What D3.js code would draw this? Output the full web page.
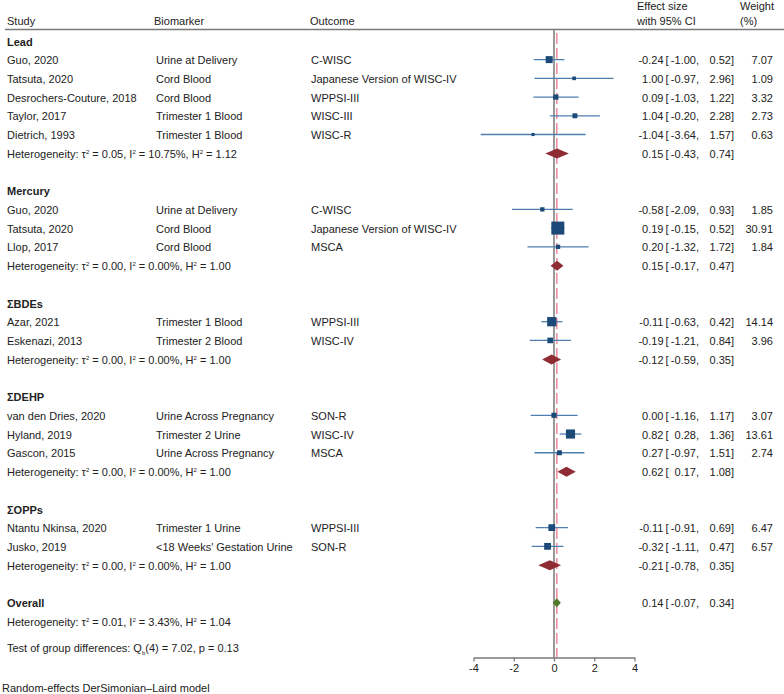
<!DOCTYPE html>
<html><head><meta charset="utf-8">
<script src="https://cdn.jsdelivr.net/npm/d3@7"></script>
<style>
body{margin:0;background:#fff;}
svg text{font-family:"Liberation Sans",Arial,Helvetica,sans-serif;font-size:11px;fill:#222;}
</style></head>
<body><svg id="c" width="784" height="694"></svg>
<script>
// ---- data ----
const groups = ["Lead","Mercury","ΣBDEs","ΣDEHP","ΣOPPs"];
const studyGroup = [0,0,0,0,0,1,1,1,2,2,3,3,3,4,4];
const studies = ["Guo, 2020","Tatsuta, 2020","Desrochers-Couture, 2018","Taylor, 2017","Dietrich, 1993",
  "Guo, 2020","Tatsuta, 2020","Llop, 2017",
  "Azar, 2021","Eskenazi, 2013",
  "van den Dries, 2020","Hyland, 2019","Gascon, 2015",
  "Ntantu Nkinsa, 2020","Jusko, 2019"];
const biomarkers = ["Urine at Delivery","Cord Blood","Cord Blood","Trimester 1 Blood","Trimester 1 Blood",
  "Urine at Delivery","Cord Blood","Cord Blood",
  "Trimester 1 Blood","Trimester 2 Blood",
  "Urine Across Pregnancy","Trimester 2 Urine","Urine Across Pregnancy",
  "Trimester 1 Urine","<18 Weeks' Gestation Urine"];
const outcomes = ["C-WISC","Japanese Version of WISC-IV","WPPSI-III","WISC-III","WISC-R",
  "C-WISC","Japanese Version of WISC-IV","MSCA",
  "WPPSI-III","WISC-IV",
  "SON-R","WISC-IV","MSCA",
  "WPPSI-III","SON-R"];
const effects = [-0.24,1.00,0.09,1.04,-1.04,-0.58,0.19,0.20,-0.11,-0.19,0.00,0.82,0.27,-0.11,-0.32];
const lowers  = [-1.00,-0.97,-1.03,-0.20,-3.64,-2.09,-0.15,-1.32,-0.63,-1.21,-1.16,0.28,-0.97,-0.91,-1.11];
const uppers  = [0.52,2.96,1.22,2.28,1.57,0.93,0.52,1.72,0.42,0.84,1.17,1.36,1.51,0.69,0.47];
const weights = [7.07,1.09,3.32,2.73,0.63,1.85,30.91,1.84,14.14,3.96,3.07,13.61,2.74,6.47,6.57];
const groupEffects = [0.15,0.15,-0.12,0.62,-0.21];
const groupLowers  = [-0.43,-0.17,-0.59,0.17,-0.78];
const groupUppers  = [0.74,0.47,0.35,1.08,0.35];
const groupTau2 = ["0.05","0.00","0.00","0.00","0.00"];
const groupI2   = ["10.75%","0.00%","0.00%","0.00%","0.00%"];
const groupH2   = ["1.12","1.00","1.00","1.00","1.00"];
const overall = {effect:0.14, lower:-0.07, upper:0.34, tau2:"0.01", i2:"3.43%", h2:"1.04"};
const groupTest = {df:4, q:"7.02", p:"0.13"};
const xTicks = [-4,-2,0,2,4];

// ---- layout ----
const svg = d3.select("#c");
const x = d3.scaleLinear().domain([-4,4]).range([473.5,634.5]);
const rowY = d3.scaleLinear().domain([0,1]).range([41.7,41.7+18.72]);
const axisY = 657.5;
const colStudy=7, colBio=156, colOut=311;
const fmt = v => d3.format(".2f")(v).replace("\u2212","-");
const sq = d3.scaleSqrt().domain([0,30.91]).range([1.5,13]);

// header
svg.append("text").attr("x",7).attr("y",21).attr("dy","0.35em").text("Study");
svg.append("text").attr("x",154).attr("y",21).attr("dy","0.35em").text("Biomarker");
svg.append("text").attr("x",310).attr("y",21).attr("dy","0.35em").text("Outcome");
svg.append("text").attr("x",637).attr("y",6.5).attr("dy","0.35em").text("Effect size");
svg.append("text").attr("x",637).attr("y",21).attr("dy","0.35em").text("with 95% CI");
svg.append("text").attr("x",740).attr("y",6.5).attr("dy","0.35em").text("Weight");
svg.append("text").attr("x",740).attr("y",21).attr("dy","0.35em").text("(%)");
svg.append("line").attr("x1",5).attr("x2",784).attr("y1",29.5).attr("y2",29.5)
  .attr("stroke","#7a7a7a").attr("stroke-width",1.4);

// reference lines
svg.append("line").attr("x1",x(0)).attr("x2",x(0)).attr("y1",30).attr("y2",axisY)
  .attr("stroke","#9a9a9a").attr("stroke-width",2);
svg.append("line").attr("x1",x(overall.effect)).attr("x2",x(overall.effect)).attr("y1",33).attr("y2",axisY)
  .attr("stroke","#f08a9c").attr("stroke-width",1.5).attr("stroke-dasharray","11,4");

function sup(t, s){
  t.append("tspan").attr("font-size","6px").attr("dy",-4).text(s);
}
function hetText(y, t2, i2, h2){
  const t = svg.append("text").attr("x",colStudy).attr("y",y).attr("dy","0.35em");
  t.append("tspan").text("Heterogeneity: τ");
  sup(t,"2");
  t.append("tspan").attr("dy",4).text(" = "+t2+", I");
  sup(t,"2");
  t.append("tspan").attr("dy",4).text(" = "+i2+", H");
  sup(t,"2");
  t.append("tspan").attr("dy",4).text(" = "+h2);
}
function ciText(y, e, l, u, w){
  svg.append("text").attr("x",663.5).attr("y",y).attr("dy","0.35em").attr("text-anchor","end").text(fmt(e));
  svg.append("text").attr("x",665.5).attr("y",y).attr("dy","0.35em").text("[");
  svg.append("text").attr("x",699).attr("y",y).attr("dy","0.35em").attr("text-anchor","end").text(fmt(l)+",");
  svg.append("text").attr("x",734).attr("y",y).attr("dy","0.35em").attr("text-anchor","end").text(fmt(u)+"]");
  if(w!=null) svg.append("text").attr("x",773).attr("y",y).attr("dy","0.35em").attr("text-anchor","end").text(fmt(w));
}
function diamond(y, e, l, u, color, h){
  svg.append("path").attr("d",`M${x(l)},${y} L${x(e)},${y-h/2} L${x(u)},${y} L${x(e)},${y+h/2} Z`)
    .attr("fill",color);
}

let row = 0;
groups.forEach((g,gi)=>{
  svg.append("text").attr("x",colStudy).attr("y",rowY(row)).attr("dy","0.35em")
    .attr("font-weight","bold").text(g);
  row++;
  studyGroup.forEach((sg,i)=>{
    if(sg!==gi) return;
    const y = rowY(row);
    svg.append("text").attr("x",colStudy).attr("y",y).attr("dy","0.35em").text(studies[i]);
    svg.append("text").attr("x",colBio).attr("y",y).attr("dy","0.35em").text(biomarkers[i]);
    svg.append("text").attr("x",colOut).attr("y",y).attr("dy","0.35em").text(outcomes[i]);
    svg.append("line").attr("x1",x(lowers[i])).attr("x2",x(uppers[i])).attr("y1",y-0.8).attr("y2",y-0.8)
      .attr("stroke","#4f7fb0").attr("stroke-width",1.3);
    const s = sq(weights[i]);
    svg.append("rect").attr("x",x(effects[i])-s/2).attr("y",y-0.8-s/2).attr("width",s).attr("height",s)
      .attr("fill","#1b4a78");
    ciText(y, effects[i], lowers[i], uppers[i], weights[i]);
    row++;
  });
  const y = rowY(row);
  hetText(y, groupTau2[gi], groupI2[gi], groupH2[gi]);
  diamond(y-0.5, groupEffects[gi], groupLowers[gi], groupUppers[gi], "#8e2b33", 10);
  ciText(y, groupEffects[gi], groupLowers[gi], groupUppers[gi], null);
  row += 2;
});
// overall
svg.append("text").attr("x",colStudy).attr("y",rowY(row)).attr("dy","0.35em").attr("font-weight","bold").text("Overall");
diamond(rowY(row)-0.5, overall.effect, overall.lower, overall.upper, "#4f7a2a", 9);
ciText(rowY(row), overall.effect, overall.lower, overall.upper, null);
row++;
hetText(rowY(row), overall.tau2, overall.i2, overall.h2);
const tt = svg.append("text").attr("x",colStudy).attr("y",rowY(row+1.42)).attr("dy","0.35em");
tt.append("tspan").text("Test of group differences: Q");
tt.append("tspan").attr("font-size","6px").attr("dy",3).text("b");
tt.append("tspan").attr("dy",-3).text("("+groupTest.df+") = "+groupTest.q+", p = "+groupTest.p);

svg.append("text").attr("x",2).attr("y",688.5).attr("dy","0.35em").text("Random-effects DerSimonian–Laird model");

// axis
const ax = svg.append("g").attr("transform",`translate(0,${axisY})`)
  .call(d3.axisBottom(x).tickValues(xTicks).tickSize(4).tickSizeOuter(0).tickFormat(d => String(d)));
ax.select(".domain").attr("stroke","#7a7a7a").attr("stroke-width",1.3);
ax.selectAll(".tick line").attr("stroke","#7a7a7a").attr("stroke-width",1.3);
ax.selectAll(".tick text").attr("font-size","11px").attr("font-family",null).attr("fill","#222").attr("y",7);
ax.attr("font-family",null).attr("font-size",null);
</script></body></html>
